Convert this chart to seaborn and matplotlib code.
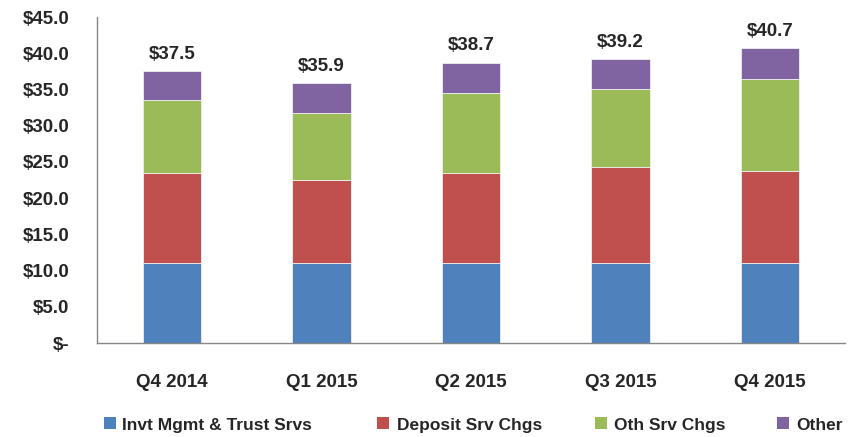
import matplotlib
matplotlib.use("Agg")
import matplotlib.pyplot as plt
import seaborn as sns
import numpy as np
import pandas as pd
from matplotlib.patches import Rectangle

quarters = ["Q4 2014", "Q1 2015", "Q2 2015", "Q3 2015", "Q4 2015"]
invt_mgmt = [11.1, 11.0, 11.0, 11.1, 11.0]
deposit = [12.3, 11.5, 12.4, 13.2, 12.7]
oth_srv = [10.2, 9.2, 11.1, 10.7, 12.8]
other = [3.9, 4.2, 4.2, 4.2, 4.2]
totals = [37.5, 35.9, 38.7, 39.2, 40.7]
series_names = ["Invt Mgmt & Trust Srvs", "Deposit Srv Chgs", "Oth Srv Chgs", "Other"]
colors = ["#4F81BD", "#C0504D", "#9BBB59", "#8064A2"]
yticks = [0, 5, 10, 15, 20, 25, 30, 35, 40, 45]

sns.set_style("white")
plt.rcParams["font.family"] = ["Liberation Sans", "DejaVu Sans"]
plt.rcParams["font.weight"] = "bold"

W, H = 860, 437
fig = plt.figure(figsize=(W / 100, H / 100), dpi=100)
ax = fig.add_axes([97 / W, 1 - 343 / H, (845 - 97) / W, (343 - 17) / H])

series = [invt_mgmt, deposit, oth_srv, other]
bottom = np.zeros(len(quarters))
for vals, name, c in zip(series, series_names, colors):
    df = pd.DataFrame({"q": quarters, "v": vals})
    sns.barplot(data=df, x="q", y="v", bottom=bottom, color=c, width=0.39,
                edgecolor="#f0f0f0", linewidth=0.6, ax=ax, saturation=1)
    bottom = bottom + np.array(vals)

for i, t in enumerate(totals):
    ax.text(i, t + 2.3, f"${t:.1f}", ha="center", va="center", fontsize=13.5, fontweight="bold")

ax.set_ylim(0, 45)
ax.set_xlim(-0.5, len(quarters) - 0.5)
ax.set_yticks(yticks)
ax.set_yticklabels(["$-" if v == 0 else f"${v:.1f}" for v in yticks], fontsize=13.5, fontweight="bold")
ax.set_xticks(range(len(quarters)))
ax.set_xticklabels(quarters, fontsize=13.5, fontweight="bold")
ax.set_xticks(np.arange(-0.5, len(quarters), 1.0), minor=True)
ax.tick_params(axis="x", which="major", length=0, pad=22)
ax.tick_params(axis="x", which="minor", length=5, color="#868686", direction="out")
ax.tick_params(axis="y", which="major", length=7, color="#868686", direction="out", pad=13)
ax.set_xlabel("")
ax.set_ylabel("")
for s in ["top", "right"]:
    ax.spines[s].set_visible(False)
for s in ["left", "bottom"]:
    ax.spines[s].set_color("#868686")
    ax.spines[s].set_linewidth(1.0)

# legend entries (manual placement in figure pixels)
sq_x = [104, 377, 595, 777]
txt_x = [122, 397, 614, 796]
baseline_y = 430
for sx, tx, name, c in zip(sq_x, txt_x, series_names, colors):
    fig.patches.append(Rectangle((sx / W, 1 - 429 / H), 12 / W, 12 / H,
                                 transform=fig.transFigure, facecolor=c, edgecolor="none"))
    fig.text(tx / W, 1 - baseline_y / H, name, ha="left", va="baseline", fontsize=12.5, fontweight="bold")

fig.savefig("out.png", dpi=100)
